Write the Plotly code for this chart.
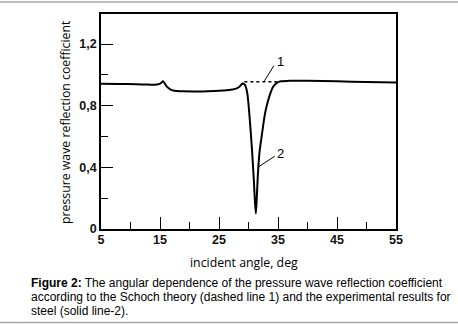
import plotly.graph_objects as go

# Curve 1: Schoch theory (dotted)
angle_theory = [29.3, 34.8]
refl_theory = [0.956, 0.956]

# Curve 2: experimental, steel (solid)
angle_exp = [5, 8, 11, 13, 14.5, 15.1, 15.5, 15.8, 16.2, 16.8, 17.5, 19, 21, 23, 25, 27, 28,
             28.5, 29.0, 29.4, 29.8, 30.2, 30.6, 30.9, 31.1, 31.25, 31.4, 31.6, 31.9, 32.3,
             32.8, 33.3, 33.7, 34.2, 34.8, 35.5, 37, 40, 45, 50, 55]
refl_exp = [0.943, 0.941, 0.939, 0.937, 0.937, 0.945, 0.958, 0.945, 0.922, 0.905, 0.897, 0.893,
            0.892, 0.894, 0.897, 0.903, 0.912, 0.925, 0.944, 0.935, 0.88, 0.72, 0.51, 0.32,
            0.17, 0.10, 0.2, 0.36, 0.51, 0.62, 0.75, 0.83, 0.88, 0.925, 0.948, 0.958, 0.962,
            0.962, 0.958, 0.953, 0.951]

x_major = [5, 15, 25, 35, 45, 55]
x_minor = [10, 20, 30, 40, 50]
y_major = [0, 0.4, 0.8, 1.2]
y_major_text = ["0", "0,4", "0,8", "1,2"]
y_minor = [0.2, 0.6, 1.0]

caption_lines = [
    "<b>Figure 2:</b> The angular dependence of the pressure wave reflection coefficient",
    "according to the Schoch theory (dashed line 1) and the experimental results for",
    "steel (solid line-2).",
]

W, H = 458, 324
L, R, T, B = 101, 396, 14, 229


def px(X):
    return (X - L) / (R - L)


def py(Y):
    return (B - Y) / (B - T)


fig = go.Figure()
fig.add_trace(go.Scatter(x=angle_theory, y=refl_theory, mode="lines",
                         line=dict(color="black", width=1.5, dash="dot"), showlegend=False))
fig.add_trace(go.Scatter(x=angle_exp, y=refl_exp, mode="lines", line_shape="spline",
                         line=dict(color="black", width=2, smoothing=0.6), showlegend=False))

tick_font = dict(family="Liberation Sans, Arial", size=12.5, color="#111", weight="bold")
axis_common = dict(showgrid=False, zeroline=False, showline=True, linecolor="black",
                   linewidth=1.5, mirror=True, ticks="inside", tickcolor="black",
                   tickwidth=1.3, ticklen=12, tickfont=tick_font)

fig.update_xaxes(range=[5, 55], tickvals=x_major, ticktext=[str(v) for v in x_major],
                 ticklabelstandoff=-2,
                 minor=dict(tickvals=x_minor, ticks="inside", ticklen=7, tickcolor="black",
                            tickwidth=1.3),
                 **axis_common)
fig.update_yaxes(range=[0, 1.395], tickvals=y_major, ticktext=y_major_text,
                 minor=dict(tickvals=y_minor, ticks="inside", ticklen=7, tickcolor="black",
                            tickwidth=1.3),
                 **axis_common)

# leader lines
fig.add_shape(type="line", x0=32.7, y0=0.961, x1=34.3, y1=1.06,
              line=dict(color="black", width=1))
fig.add_shape(type="line", x0=31.75, y0=0.405, x1=34.45, y1=0.472,
              line=dict(color="black", width=1))
fig.add_annotation(x=35.5, y=1.09, text="1", showarrow=False,
                   font=dict(family="Liberation Sans, Arial", size=13, color="black"))
fig.add_annotation(x=35.5, y=0.487, text="2", showarrow=False,
                   font=dict(family="Liberation Sans, Arial", size=13, color="black"))

title_font = dict(family="Open Sans", size=12.3, color="black")
fig.add_annotation(xref="paper", yref="paper", x=px(65), y=py(122),
                   xanchor="center", yanchor="middle",
                   text="pressure wave reflection coefficient",
                   textangle=-90, showarrow=False, font=title_font)
fig.add_annotation(xref="paper", yref="paper", x=px(244), y=py(262),
                   xanchor="center", yanchor="middle", text="incident angle, deg",
                   showarrow=False, font=title_font)

cap_font = dict(family="Liberation Sans, Arial", size=12, color="black")
for i, line in enumerate(caption_lines):
    fig.add_annotation(xref="paper", yref="paper", x=px(29), y=py(282.7 + 14 * i),
                       xanchor="left", yanchor="middle", text=line, showarrow=False,
                       font=cap_font)

for Y in (2, 322.5):
    fig.add_shape(type="line", xref="paper", yref="paper", x0=px(0), x1=px(W), y0=py(Y), y1=py(Y),
                  line=dict(color="#a8a8a8", width=1.5))

fig.update_layout(width=W, height=H, margin=dict(l=L, r=W - R, t=T, b=H - B),
                  paper_bgcolor="white", plot_bgcolor="white")

fig.write_html("out.html", config={"displayModeBar": False},
               post_script="document.body.style.margin='0';document.body.style.padding='0';")
